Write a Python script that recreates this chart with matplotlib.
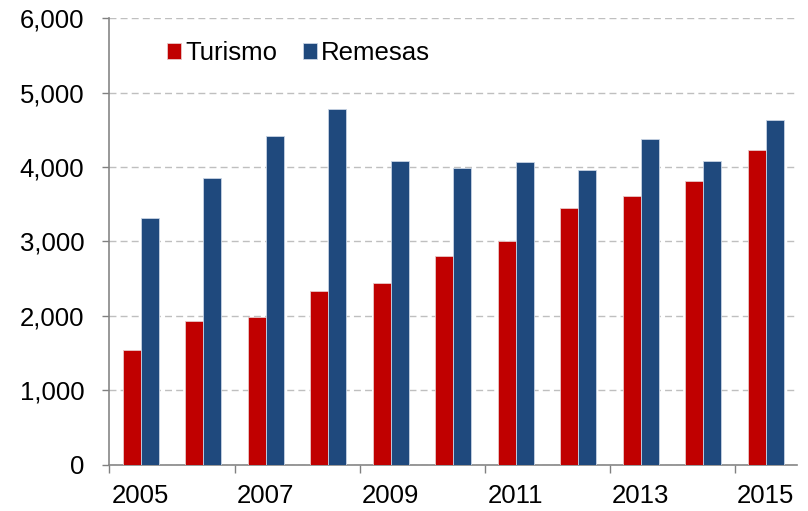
import numpy as np
import matplotlib.pyplot as plt
from matplotlib.ticker import FuncFormatter, FixedLocator

# datos (millones US$)
years = [2005, 2006, 2007, 2008, 2009, 2010, 2011, 2012, 2013, 2014, 2015]
turismo = [1540, 1925, 1990, 2330, 2435, 2800, 3010, 3455, 3605, 3815, 4230]
remesas = [3315, 3845, 4415, 4775, 4085, 3990, 4060, 3965, 4380, 4085, 4625]
year_labels = ['2005', '2007', '2009', '2011', '2013', '2015']

plt.rcParams['font.family'] = ['Liberation Sans', 'DejaVu Sans']

fig = plt.figure(figsize=(8.08, 5.11), dpi=100)
ax = fig.add_axes([0.1355, 0.0906, 0.851, 0.874])

x = np.arange(len(years))
w = 0.288
ax.bar(x - w / 2, turismo, w, color='#C00000', edgecolor='#E8C8C8',
       linewidth=0.6, label='Turismo', zorder=3)
ax.bar(x + w / 2, remesas, w, color='#1F497D', edgecolor='#C8D4E4',
       linewidth=0.6, label='Remesas', zorder=3)

ax.set_xlim(-0.5, len(years) - 0.5)
ax.set_ylim(0, 6000)
ax.set_yticks(range(0, 6001, 1000))
ax.yaxis.set_major_formatter(FuncFormatter(lambda v, p: f'{int(v):,}'))
ax.yaxis.grid(True, linestyle=(0, (5, 3)), color='#BFBFBF', linewidth=1)
ax.set_axisbelow(True)

# marcas en los límites de categoría, etiquetas cada dos años
ax.xaxis.set_major_locator(FixedLocator(np.arange(-0.5, len(years), 2)))
ax.xaxis.set_major_formatter(FuncFormatter(lambda v, p: ''))
ax.xaxis.set_minor_locator(FixedLocator(x[::2]))
ax.set_xticklabels(year_labels, minor=True)
ax.tick_params(axis='x', which='major', length=6, color='#808080', width=1)
ax.tick_params(axis='x', which='minor', length=0, pad=14, labelsize=18.5)
ax.tick_params(axis='y', length=5, color='#808080', width=1, pad=13, labelsize=18.5)

for side in ['top', 'right']:
    ax.spines[side].set_visible(False)
for side in ['left', 'bottom']:
    ax.spines[side].set_color('#868686')
    ax.spines[side].set_linewidth(1.2)

ax.legend(loc='upper left', bbox_to_anchor=(0.05, 1.0), ncol=2, frameon=False,
          fontsize=18.5, handlelength=0.55, handleheight=0.55, handletextpad=0.15,
          columnspacing=1.0)

plt.savefig('out.png', dpi=100)
